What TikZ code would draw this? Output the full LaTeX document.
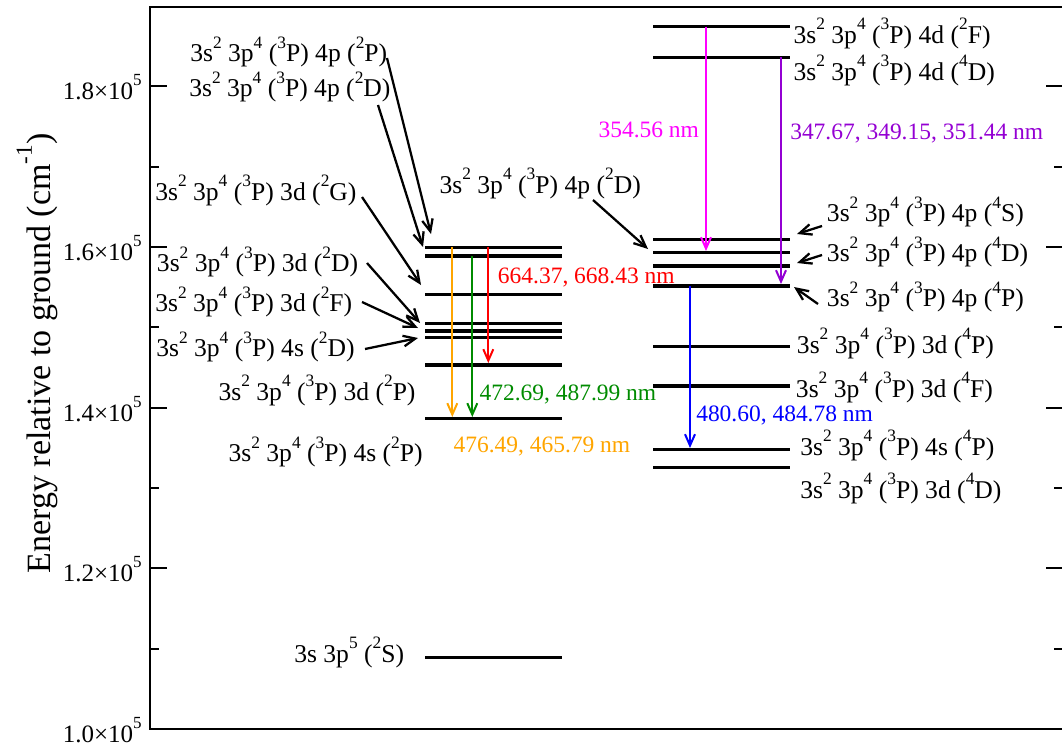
\documentclass[tikz,border=0pt]{standalone}
\usepackage{fontspec}
\setmainfont{Liberation Serif}
\usetikzlibrary{arrows.meta}

\definecolor{gmag}{RGB}{255,0,255}
\definecolor{gviolet}{RGB}{148,0,211}
\definecolor{gorange}{RGB}{255,165,0}
\definecolor{ggreen}{RGB}{0,139,0}
\definecolor{gred}{RGB}{255,0,0}
\definecolor{gblue}{RGB}{0,0,255}

% raised, reduced superscript in text
\newcommand\up[1]{\raisebox{0.53em}{\scalebox{0.68}{#1}}}
% configuration 3s2 3p4 (3P) nl (2S+1 L)
\newcommand\cfg[3]{3s\up{2} 3p\up{4} (\up{3}P) #1 (\up{#2}#3)}

\begin{document}
\begin{tikzpicture}[x=0.75pt,y=-0.75pt,
  lvl/.style={line width=2.3pt},
  tr/.style={line width=1.5pt,-{Straight Barb[length=8.5pt,width=7.5pt]}},
  ptr/.style={line width=1.7pt,-{Straight Barb[length=9pt,width=8pt]}},
  lab/.style={font=\fontsize{19.2}{21}\selectfont, inner sep=0pt, anchor=base west},
  wl/.style={font=\fontsize{17.6}{19}\selectfont, inner sep=0pt, anchor=base west},
  tk/.style={line width=1.1pt},
  ticklab/.style={font=\fontsize{18.75}{20}\selectfont, inner sep=0pt, anchor=base east},
]
\useasboundingbox (0,0) rectangle (1062,746);

% frame
\draw[line width=1.5pt] (1063,7) -- (150,7) -- (150,729) -- (1063,729);

% ticks, left and right
\foreach \yy in {86,247,408,568}{
  \draw[tk] (150,\yy) -- (167,\yy);
  \draw[tk] (1046,\yy) -- (1063,\yy);
}
\foreach \yy in {167,327,488,649}{
  \draw[tk] (150,\yy) -- (159,\yy);
  \draw[tk] (1054,\yy) -- (1063,\yy);
}
\node[ticklab] (t18) at (142,99) {1.8×10\up{5}};
\node[ticklab] (t16) at (142,260) {1.6×10\up{5}};
\node[ticklab] (t14) at (142,421) {1.4×10\up{5}};
\node[ticklab] (t12) at (142,581) {1.2×10\up{5}};
\node[ticklab] (t10) at (142,742) {1.0×10\up{5}};

% axis title
\node[font=\fontsize{25.5}{27}\selectfont, rotate=90, anchor=base, inner sep=0pt] (ytitle)
  at (50,353.5) {Energy relative to ground (cm\up{-1})};

% doublet levels
\foreach \yy in {247.3,256,294.3,323.7,331,337.7,365,418.7,657.7}
  \draw[lvl] (425,\yy) -- (562,\yy);
% quartet levels
\foreach \yy in {26.7,57.3,239.3,252.7,266,286,346.7,386,449.3,467.5}
  \draw[lvl] (653,\yy) -- (790,\yy);

% level labels, doublets
\node[lab] (d4pP) at (190,61.7) {\cfg{4p}{2}{P}};
\node[lab] (d4pD) at (189,96.7) {\cfg{4p}{2}{D}};
\node[lab] (d3dG) at (155,200) {\cfg{3d}{2}{G}};
\node[lab] (d3dD) at (156.7,271.7) {\cfg{3d}{2}{D}};
\node[lab] (d3dF) at (155,311.7) {\cfg{3d}{2}{F}};
\node[lab] (d4sD) at (156,356.7) {\cfg{4s}{2}{D}};
\node[lab] (d3dP) at (218.3,400) {\cfg{3d}{2}{P}};
\node[lab] (d4sP) at (228.3,461.7) {\cfg{4s}{2}{P}};
\node[lab] (s2S) at (294,662) {3s 3p\up{5} (\up{2}S)};
\node[lab] (m4pD) at (439.3,193.3) {\cfg{4p}{2}{D}};

% level labels, quartets
\node[lab] (q4dF) at (793.3,43.3) {\cfg{4d}{2}{F}};
\node[lab] (q4dD) at (793.3,80) {\cfg{4d}{4}{D}};
\node[lab] (q4pS) at (826.7,221.7) {\cfg{4p}{4}{S}};
\node[lab] (q4pD) at (826.7,261.7) {\cfg{4p}{4}{D}};
\node[lab] (q4pP) at (826.7,306.7) {\cfg{4p}{4}{P}};
\node[lab] (q3dP) at (796.7,353.3) {\cfg{3d}{4}{P}};
\node[lab] (q3dF) at (795.7,397.5) {\cfg{3d}{4}{F}};
\node[lab] (q4sP) at (800,455) {\cfg{4s}{4}{P}};
\node[lab] (q3dD) at (800,498) {\cfg{3d}{4}{D}};

% pointers from labels to levels
\coordinate (a1s) at (387,58);   \coordinate (a1e) at (431,234);
\coordinate (a2s) at (378,105);  \coordinate (a2e) at (423,247);
\coordinate (a3s) at (362,197);  \coordinate (a3e) at (421,285);
\coordinate (a4s) at (367,263);  \coordinate (a4e) at (420,323);
\coordinate (a5s) at (362,302);  \coordinate (a5e) at (418,328);
\coordinate (a6s) at (365,349);  \coordinate (a6e) at (418,338);
\coordinate (a7s) at (593,200);  \coordinate (a7e) at (648,249);
\coordinate (a8s) at (822,226);  \coordinate (a8e) at (797,234);
\coordinate (a9s) at (822,255);  \coordinate (a9e) at (797,263);
\coordinate (a10s) at (818,304); \coordinate (a10e) at (794,287);
\foreach \i in {1,...,10}
  \draw[ptr] (a\i s) -- (a\i e);

% transitions
\coordinate (o1) at (452.3,247.3); \coordinate (o2) at (452.3,417);
\coordinate (g1) at (472.3,256);   \coordinate (g2) at (472.3,417);
\coordinate (r1) at (488.3,247.3); \coordinate (r2) at (488.3,363);
\coordinate (m1) at (706,26.7);    \coordinate (m2) at (706,251);
\coordinate (v1) at (781,57.3);    \coordinate (v2) at (781,284);
\coordinate (b1) at (690,286);     \coordinate (b2) at (690,448);
\draw[tr,gorange] (o1) -- (o2);
\draw[tr,ggreen] (g1) -- (g2);
\draw[tr,gred] (r1) -- (r2);
\draw[tr,gmag] (m1) -- (m2);
\draw[tr,gviolet] (v1) -- (v2);
\draw[tr,gblue] (b1) -- (b2);

% wavelengths
\node[wl,gred] (wr) at (497.7,283.3) {664.37, 668.43 nm};
\node[wl,ggreen] (wg) at (479.3,400.7) {472.69, 487.99 nm};
\node[wl,gorange] (wo) at (453.3,452.3) {476.49, 465.79 nm};
\node[wl,gblue] (wb) at (696,421) {480.60, 484.78 nm};
\node[wl,gmag] (wm) at (598.3,137.3) {354.56 nm};
\node[wl,gviolet] (wv) at (790,139) {347.67, 349.15, 351.44 nm};
\end{tikzpicture}
\end{document}
